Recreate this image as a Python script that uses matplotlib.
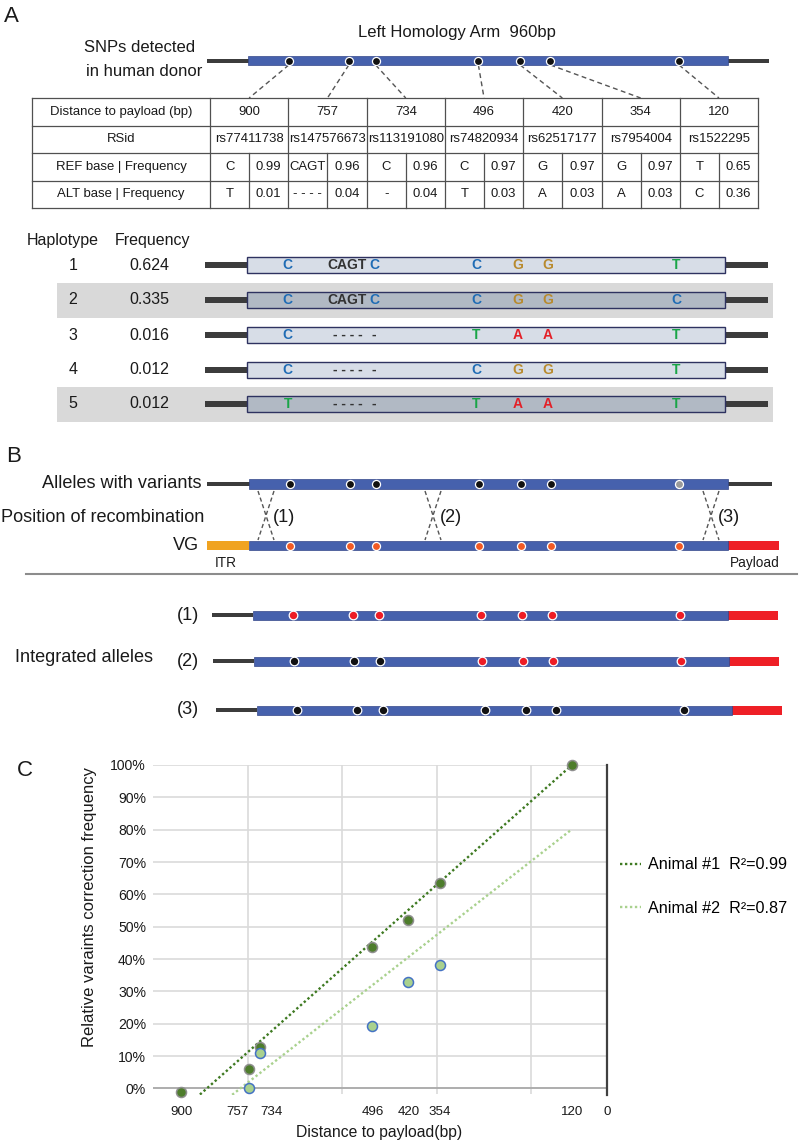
import numpy as np
import matplotlib
matplotlib.use("Agg")
import matplotlib.pyplot as plt
from matplotlib.patches import Rectangle
from matplotlib.lines import Line2D
from matplotlib import font_manager as fm

# ---------------- data ----------------
snp_distance = [900, 757, 734, 496, 420, 354, 120]
snp_rsid = ["rs77411738", "rs147576673", "rs113191080", "rs74820934",
            "rs62517177", "rs7954004", "rs1522295"]
ref_base = ["C", "CAGT", "C", "C", "G", "G", "T"]
ref_freq = ["0.99", "0.96", "0.96", "0.97", "0.97", "0.97", "0.65"]
alt_base = ["T", "- - - -", "-", "T", "A", "A", "C"]
alt_freq = ["0.01", "0.04", "0.04", "0.03", "0.03", "0.03", "0.36"]
row_labels = ["Distance to payload (bp)", "RSid",
              "REF base | Frequency", "ALT base | Frequency"]

haplotype_id = ["1", "2", "3", "4", "5"]
haplotype_freq = ["0.624", "0.335", "0.016", "0.012", "0.012"]
haplotype_alleles = [
    ["C", "CAGT", "C", "C", "G", "G", "T"],
    ["C", "CAGT", "C", "C", "G", "G", "C"],
    ["C", "- - - -", "-", "T", "A", "A", "T"],
    ["C", "- - - -", "-", "C", "G", "G", "T"],
    ["T", "- - - -", "-", "T", "A", "A", "T"],
]
haplotype_shaded = [False, True, False, False, True]

recomb_labels = ["(1)", "(2)", "(3)"]
integrated_labels = ["(1)", "(2)", "(3)"]
# 1 = allele taken from vector genome (corrected), 0 = donor allele kept
integrated_state = [[1, 1, 1, 1, 1, 1, 1],
                    [0, 0, 0, 1, 1, 1, 1],
                    [0, 0, 0, 0, 0, 0, 0]]

# chart C (x = plotted axis position, last SNP "120" is drawn near 74)
chart_x = [900, 757, 734, 496, 420, 354, 74]
chart_tick_labels = ["900", "757", "734", "496", "420", "354", "120", "0"]
animal1_y = [-0.01, 0.059, 0.127, 0.438, 0.521, 0.634, 1.0]
animal2_x = [757, 734, 496, 420, 354]
animal2_y = [0.0, 0.110, 0.193, 0.328, 0.381]
trend1_coef = (1.096, -0.0012955)   # intercept, slope
trend2_coef = (0.886, -0.001143)
trend_range = [900, 74]
legend_labels = ["Animal #1  R\u00b2=0.99", "Animal #2  R\u00b2=0.87"]

# ---------------- style / layout ----------------
names = {f.name for f in fm.fontManager.ttflist}
if "Liberation Sans Narrow" in names:
    NARROW = ["Liberation Sans Narrow", "DejaVu Sans"]
    NS = 1.0
else:
    NARROW = ["Liberation Sans", "DejaVu Sans"]
    NS = 0.84
REG = ["Liberation Sans", "DejaVu Sans"]

BLUE = "#4661ad"
BLUE_EDGE = "#34478a"
GRAY = "#3c3c3c"
TXT = "#1a1a1a"
slot_frac = [0.085, 0.210, 0.266, 0.480, 0.567, 0.630, 0.898]  # schematic slots

fig = plt.figure(figsize=(8, 11.47), dpi=100)
dax = fig.add_axes([0, 0, 1, 1])
dax.set_xlim(0, 800)
dax.set_ylim(1147, 0)
dax.axis("off")


def rect(x0, x1, yc, h, fc, ec="none", lw=0.0, z=2):
    dax.add_patch(Rectangle((x0, yc - h / 2), x1 - x0, h, facecolor=fc,
                            edgecolor=ec, linewidth=lw, zorder=z))


def txt(x, y, s, size, ha="center", fam=None, **kw):
    fam = NARROW if fam is None else fam
    sz = size * NS if fam is NARROW else size
    dax.text(x, y, s, fontsize=sz, ha=ha, va="center", family=fam,
             color=kw.pop("color", TXT), **kw)


def dots(x0, x1, yc, colors, ms=5.8):
    xs = [x0 + f * (x1 - x0) for f in slot_frac]
    for x, c in zip(xs, colors):
        dax.plot([x], [yc], "o", ms=ms, mfc=c, mec="white", mew=0.9, zorder=5)
    return xs


# ---------------- Panel A ----------------
txt(4, 17, "A", 16, ha="left", fam=REG)
txt(457, 33, "Left Homology Arm  960bp", 14.3)
txt(84, 47, "SNPs detected", 14.3, ha="left")
txt(86, 72, "in human donor", 14.3, ha="left")

rect(207, 769, 60.5, 4, GRAY)
rect(248, 728, 60.5, 9, BLUE, BLUE_EDGE, 0.5, z=3)
sx = dots(248, 728, 60.5, ["#111111"] * 7)

# table
tab_l, lab_r, col_w = 32, 210, 78.3
row_y = [98, 125.5, 153, 180.5, 208]
tab_r = lab_r + len(snp_distance) * col_w
col_c = [lab_r + (i + 0.5) * col_w for i in range(len(snp_distance))]
for x, c in zip(sx, col_c):
    dax.plot([x, c], [65, 98], color="#555555", lw=1.0,
             ls=(0, (3.5, 2.5)), zorder=1)
LC = "#505050"
for y in row_y:
    dax.plot([tab_l, tab_r], [y, y], color=LC, lw=0.9)
for x in [tab_l] + [lab_r + i * col_w for i in range(len(snp_distance) + 1)]:
    dax.plot([x, x], [row_y[0], row_y[-1]], color=LC, lw=0.9)
for c in col_c:
    dax.plot([c, c], [row_y[2], row_y[4]], color=LC, lw=0.9)
row_c = [(row_y[i] + row_y[i + 1]) / 2 for i in range(4)]
for lab, yc in zip(row_labels, row_c):
    txt((tab_l + lab_r) / 2, yc, lab, 11.3)
for i, c in enumerate(col_c):
    txt(c, row_c[0], str(snp_distance[i]), 11.3)
    txt(c, row_c[1], snp_rsid[i], 11.3)
    txt(c - col_w / 4, row_c[2], ref_base[i], 11.3)
    txt(c + col_w / 4, row_c[2], ref_freq[i], 11.3)
    txt(c - col_w / 4, row_c[3], alt_base[i], 11.3)
    txt(c + col_w / 4, row_c[3], alt_freq[i], 11.3)

# haplotypes
txt(63, 240, "Haplotype", 13.7)
txt(153, 240, "Frequency", 13.7)
hy = [265, 300, 335, 370, 404]
BASE_COL = {"C": "#1f6cb5", "G": "#b88a2e", "T": "#19a547", "A": "#e32028",
            "CAGT": "#333333", "- - - -": "#333333", "-": "#333333"}
for k, yc in enumerate(hy):
    if haplotype_shaded[k]:
        rect(57, 773, yc, 35, "#d9d9d9", z=0)
    txt(73, yc, haplotype_id[k], 13.7)
    txt(149, yc, haplotype_freq[k], 13.7)
    rect(205, 250, yc, 6, GRAY)
    rect(722, 768, yc, 6, GRAY)
    fc = "#b1b9c4" if haplotype_shaded[k] else "#d7dde7"
    rect(247, 725, yc, 16, fc, "#2e3260", 1.0, z=3)
    for f, b in zip(slot_frac, haplotype_alleles[k]):
        dax.text(247 + f * 478, yc, b, fontsize=10, fontweight="bold",
                 family=REG, color=BASE_COL[b], ha="center", va="center",
                 zorder=6)

# ---------------- Panel B ----------------
txt(6, 457, "B", 16, ha="left", fam=REG)
txt(202, 483, "Alleles with variants", 15.6, ha="right")
rect(207, 772, 484, 4, GRAY)
rect(249, 728, 484, 10, BLUE, BLUE_EDGE, 0.5, z=3)
dots(249, 728, 484, ["#111111"] * 6 + ["#9a9a9a"])

txt(204, 517, "Position of recombination", 15.6, ha="right")
cross_x = [266, 433, 711]
for xc, lab in zip(cross_x, recomb_labels):
    dax.plot([xc - 8, xc + 8], [491, 540], color="#555555", lw=1.0,
             ls=(0, (3, 2)))
    dax.plot([xc + 8, xc - 8], [491, 540], color="#555555", lw=1.0,
             ls=(0, (3, 2)))
    txt(xc + 7, 517, lab, 15.6, ha="left")

txt(199, 545, "VG", 15.6, ha="right")
rect(207, 249, 545.5, 9, "#f0a321")
rect(249, 728, 545.5, 9, BLUE, BLUE_EDGE, 0.5, z=3)
rect(728, 779, 545.5, 9, "#ee1f26")
dots(249, 728, 545.5, ["#f15a24"] * 7)
txt(226, 563, "ITR", 11.7)
txt(755, 563, "Payload", 11.7)
dax.plot([26, 797], [574, 574], color="#8c8c8c", lw=1.5)

# integrated alleles
txt(15, 658, "Integrated alleles", 15.6, ha="left")
iy = [615, 661, 710]
ix0 = [253, 254, 257]
for k, yc in enumerate(iy):
    x0 = ix0[k]
    x1 = x0 + 475
    txt(188, yc, integrated_labels[k], 15.6)
    rect(x0 - 41, x0, yc, 4, GRAY)
    rect(x0, x1, yc, 9, BLUE, BLUE_EDGE, 0.5, z=3)
    rect(x1, x1 + 50, yc, 9, "#ee1f26")
    cols = ["#ee1c25" if s else "#111111" for s in integrated_state[k]]
    dots(x0, x1, yc, cols, ms=6.2)

# ---------------- Panel C ----------------
txt(17, 771, "C", 16, ha="left", fam=REG)

ax = fig.add_axes([153 / 800, 1 - 1094.5 / 1147, 454 / 800, 329.5 / 1147])
ax.set_facecolor("none")
ax.set_xlim(960, 0)
ax.set_ylim(-0.019, 1.0)
for s in ax.spines.values():
    s.set_visible(False)
yt = np.round(np.arange(0, 1.001, 0.1), 2)
ax.set_yticks(yt)
ax.set_yticklabels([f"{int(round(v * 100))}%" for v in yt])
ax.grid(axis="y", color="#dadada", lw=1.2)
ax.set_axisbelow(True)
ax.vlines([760, 560, 360, 160], -0.019, 1.0, color="#dadada", lw=1.2,
          zorder=0)
ax.axhline(0, color="#a6a6a6", lw=1.2, zorder=1)
ax.axvline(0, color="#404040", lw=1.6, clip_on=False, zorder=3)
ax.set_xticks(chart_x + [0])
ax.set_xticklabels(chart_tick_labels)
ax.tick_params(axis="y", length=0, pad=5, labelsize=12 * NS, colors=TXT)
ax.tick_params(axis="x", length=0, pad=8, labelsize=11.5 * NS, colors=TXT)
for lab in ax.get_xticklabels() + ax.get_yticklabels():
    lab.set_family(NARROW)
xtl = ax.get_xticklabels()
xtl[1].set_horizontalalignment("right")
xtl[2].set_horizontalalignment("left")

tx = np.array(trend_range, dtype=float)
DG = "#3f7a22"
LG = "#a9d18e"
ax.plot(tx, trend1_coef[0] + trend1_coef[1] * tx, color=DG, lw=1.7,
        ls=(0, (1, 1.1)), zorder=2)
ax.plot(tx, trend2_coef[0] + trend2_coef[1] * tx, color=LG, lw=1.7,
        ls=(0, (1, 1.1)), zorder=2)
ax.plot(chart_x, animal1_y, "o", ms=7.2, mfc="#4e7d2c", mec="#8f8f8f",
        mew=1.1, ls="none", zorder=4, clip_on=False)
ax.plot(animal2_x, animal2_y, "o", ms=7.2, mfc="#a9d18e", mec="#4472c4",
        mew=1.1, ls="none", zorder=4, clip_on=False)

txt(90, 907, "Relative varaints correction frequency", 14.3, rotation=90)
txt(379, 1133, "Distance to payload(bp)", 13.5)

h1 = Line2D([], [], color=DG, lw=1.7, ls=(0, (1, 1.1)))
h2 = Line2D([], [], color=LG, lw=1.7, ls=(0, (1, 1.1)))
fig.legend([h1, h2], legend_labels, loc="center left",
           bbox_to_anchor=(620 / 800, 1 - 886.5 / 1147), frameon=False,
           prop={"family": NARROW, "size": 13.8 * NS}, handlelength=1.3,
           handletextpad=0.45, labelspacing=1.75, borderpad=0,
           borderaxespad=0)

fig.savefig("out.png", dpi=100)
